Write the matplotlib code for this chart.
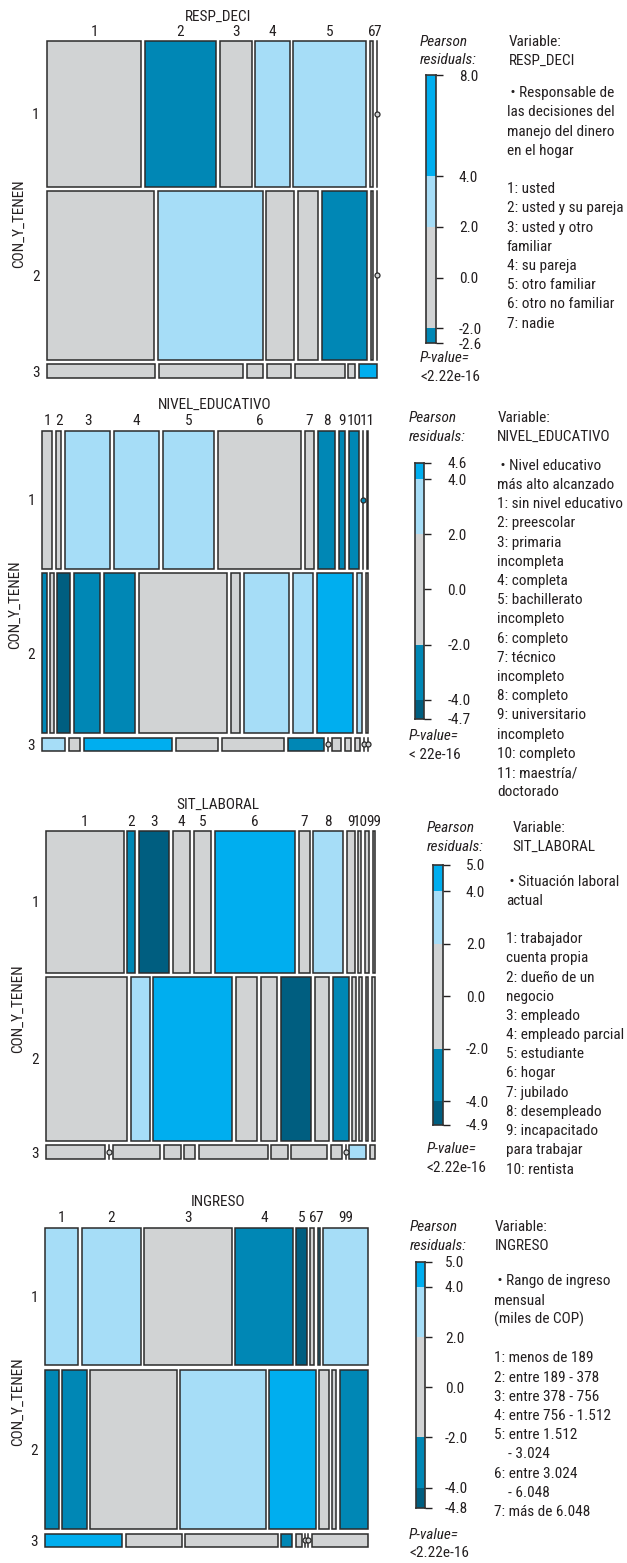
import numpy as np
import matplotlib.pyplot as plt
from matplotlib import font_manager
from matplotlib.patches import Rectangle

# ---- data ---------------------------------------------------------------
# CON_Y_TENEN marginal shares (rows 1, 2, 3)
row_labels = ['1', '2', '3']
row_share = [44.4, 51.4, 4.2]

# residual class per cell: -2 (< -4), -1 (-4..-2), 0 (-2..2), 1 (2..4), 2 (> 4)
resp_labels = ['1', '2', '3', '4', '5', '6', '7']
resp_share = [[30.7, 23.0, 10.5, 11.1, 23.6, 1.1, 0.0],
              [34.8, 34.2, 9.0, 6.6, 14.8, 0.7, 0.0],
              [35.3, 27.4, 5.3, 7.8, 16.3, 2.1, 5.9]]
resp_level = [[0, -1, 0, 1, 1, 0, 0],
              [0, 1, 0, 0, -1, 0, 0],
              [0, 0, 0, 0, 0, 0, 2]]
resp_range = (-2.6, 8.0)

educ_labels = ['1', '2', '3', '4', '5', '6', '7', '8', '9', '10', '', '11']
educ_share = [[3.5, 1.8, 15.9, 16.1, 18.0, 29.2, 3.3, 6.1, 2.1, 3.5, 0.0, 0.4],
              [1.5, 1.1, 4.6, 9.1, 10.9, 31.5, 3.1, 16.0, 7.0, 12.8, 1.9, 0.6],
              [8.2, 3.8, 31.3, 14.8, 22.0, 12.8, 0.0, 3.3, 2.0, 1.8, 0.0, 0.0]]
educ_level = [[0, 0, 1, 1, 1, 0, 0, -1, -1, -1, -1, 0],
              [-1, 0, -2, -1, -1, 0, 0, 1, 1, 2, 1, 0],
              [1, 0, 2, 0, 0, -1, 0, 0, 0, 0, 0, 0]]
educ_range = (-4.7, 4.6)

lab_labels = ['1', '2', '3', '4', '5', '6', '7', '8', '9', '10', '', '99']
lab_share = [[26.9, 2.7, 10.5, 6.1, 6.0, 27.8, 3.8, 10.3, 2.7, 1.0, 1.5, 0.6],
             [28.2, 6.5, 27.2, 7.5, 5.6, 10.5, 5.0, 5.5, 1.1, 0.9, 1.0, 0.9],
             [20.6, 0.0, 16.4, 5.9, 3.9, 23.8, 5.7, 12.5, 3.8, 0.0, 5.7, 1.8]]
lab_level = [[0, -1, -2, 0, 0, 2, 0, 1, 0, 0, 0, 0],
             [0, 1, 2, 0, 0, -2, 0, -1, 0, 0, 0, 0],
             [0, 0, 0, 0, 0, 0, 0, 0, 0, 0, 1, 0]]
lab_range = (-4.9, 5.0)

ing_labels = ['1', '2', '3', '4', '5', '6', '7', '99']
ing_share = [[11.0, 19.7, 29.5, 19.1, 3.7, 1.3, 0.8, 14.8],
             [4.5, 8.2, 29.2, 28.6, 15.5, 3.3, 1.4, 9.4],
             [25.8, 18.8, 31.0, 3.7, 2.0, 0.0, 0.0, 18.7]]
ing_level = [[1, 1, 0, -1, -2, 0, -1, 1],
             [-1, -1, 0, 1, 2, 0, 0, -1],
             [2, 0, 0, -1, 0, 0, 0, 0]]
ing_range = (-4.8, 5.0)

resp_text = [' \u2022 Responsable de', 'las decisiones del', 'manejo del dinero',
             'en el hogar', '', '1: usted', '2: usted y su pareja',
             '3: usted y otro', 'familiar', '4: su pareja', '5: otro familiar',
             '6: otro no familiar', '7: nadie']
educ_text = [' \u2022 Nivel educativo', 'más alto alcanzado', '1: sin nivel educativo',
             '2: preescolar', '3: primaria', 'incompleta', '4: completa',
             '5: bachillerato', 'incompleto', '6: completo', '7: técnico',
             'incompleto', '8: completo', '9: universitario', 'incompleto',
             '10: completo', '11: maestría/', 'doctorado']
lab_text = [' \u2022 Situación laboral', 'actual', '', '1: trabajador', 'cuenta propia',
            '2: dueño de un', 'negocio', '3: empleado', '4: empleado parcial',
            '5: estudiante', '6: hogar', '7: jubilado', '8: desempleado',
            '9: incapacitado', 'para trabajar', '10: rentista']
ing_text = [' \u2022 Rango de ingreso', 'mensual', '(miles de COP)', '',
            '1: menos de 189', '2: entre 189 - 378', '3: entre 378 - 756',
            '4: entre 756 - 1.512', '5: entre 1.512', '    - 3.024',
            '6: entre 3.024', '    - 6.048', '7: más de 6.048']

# ---- styling -------------------------------------------------------------
W, H = 627, 1563
COLORS = {2: '#00aeef', 1: '#a6ddf7', 0: '#d1d3d4', -1: '#0087b5', -2: '#005e80'}
EDGE = '#2b2b2b'
TXT = '#231f20'
VGAP = 4.5

# pick a narrow sans if one is installed
entries = font_manager.fontManager.ttflist
names = {f.name for f in entries}
condensed = {f.name for f in entries if f.stretch in ('condensed', 'semi-condensed')}
STRETCH = 'normal'
if 'Liberation Sans Narrow' in names:
    FONT, FS = 'Liberation Sans Narrow', 11.5
elif 'Roboto Condensed' in names:
    FONT, FS = 'Roboto Condensed', 11.0
elif 'Open Sans Condensed' in names:
    FONT, FS = 'Open Sans Condensed', 11.0
elif 'Roboto' in condensed:
    FONT, FS, STRETCH = 'Roboto', 11.0, 'condensed'
elif 'Open Sans' in condensed:
    FONT, FS, STRETCH = 'Open Sans', 10.5, 'condensed'
else:
    FONT, FS = 'Liberation Sans', 9.8
plt.rcParams['font.family'] = [FONT, 'DejaVu Sans']
plt.rcParams['font.stretch'] = STRETCH
BASE = 0.36 * FS * 100 / 72  # half cap height in px

panels = [
    dict(name='RESP_DECI', labels=resp_labels, share=resp_share, level=resp_level,
         rng=resp_range, text=resp_text, pval='<2.22e-16',
         box=(46.7, 41, 376.7, 378), hgap=3.6, title=(218, 15), ylab=19,
         bar=(426, 75.3, 436, 343.3), tick_x=459, head=(420, 509, 40),
         pv=(420, 357), desc=(506.7, 91.7)),
    dict(name='NIVEL_EDUCATIVO', labels=educ_labels, share=educ_share, level=educ_level,
         rng=educ_range, text=educ_text, pval='< 22e-16',
         box=(42.3, 430.7, 367.7, 751), hgap=3.9, title=(214.3, 403.3), ylab=15,
         bar=(415, 462.7, 424.3, 719), tick_x=447.3, head=(409, 497.3, 416.7),
         pv=(409, 735), desc=(497.3, 464.3)),
    dict(name='SIT_LABORAL', labels=lab_labels, share=lab_share, level=lab_level,
         rng=lab_range, text=lab_text, pval='<2.22e-16',
         box=(46, 831.3, 374.7, 1158.7), hgap=3.7, title=(217.5, 803.3), ylab=18,
         bar=(432.7, 865, 443.3, 1125), tick_x=466, head=(426.7, 512.3, 826.7),
         pv=(426.7, 1147.7), desc=(505.7, 880)),
    dict(name='INGRESO', labels=ing_labels, share=ing_share, level=ing_level,
         rng=ing_range, text=ing_text, pval='<2.22e-16',
         box=(45.3, 1227.7, 367.7, 1546.7), hgap=3.35, title=(217.7, 1201), ylab=17.7,
         bar=(415.7, 1261.7, 425, 1507.7), tick_x=445, head=(410, 495, 1225.7),
         pv=(409, 1533.3), desc=(494.3, 1280)),
]

fig = plt.figure(figsize=(W / 100, H / 100), dpi=100)
bg = fig.add_axes([0, 0, 1, 1])
bg.set_xlim(0, W)
bg.set_ylim(H, 0)
bg.axis('off')


def put(x, y, s, **kw):
    kw.setdefault('ha', 'left')
    bg.text(x, y + BASE, s, va='baseline', fontsize=FS, color=TXT, **kw)


for p in panels:
    left, top, right, bottom = p['box']
    w, h = right - left, bottom - top

    # mosaic cells
    rows = np.array(row_share, float)
    heights = rows / rows.sum() * (h - VGAP * (len(rows) - 1))
    y0 = top
    for r, hr in enumerate(heights):
        s = np.array(p['share'][r], float)
        widths = s / s.sum() * (w - p['hgap'] * (len(s) - 1))
        x0 = left
        for c, wc in enumerate(widths):
            col = COLORS[p['level'][r][c]]
            if wc > 0:
                bg.add_patch(Rectangle((x0, y0), wc, hr, facecolor=col,
                                       edgecolor=EDGE, lw=1.1))
            else:
                bg.plot([x0, x0], [y0, y0 + hr], color=EDGE, lw=1.1)
                bg.plot(x0, y0 + hr / 2, 'o', ms=3.6, mfc=col, mec=EDGE, mew=0.9)
            if r == 0 and p['labels'][c]:
                put(x0 + wc / 2, top - 11, p['labels'][c], ha='center')
            x0 += wc + p['hgap']
        put(left - 7, y0 + hr / 2, row_labels[r], ha='right')
        y0 += hr + VGAP

    put(p['title'][0], p['title'][1], p['name'], ha='center')
    bg.text(p['ylab'], (top + bottom) / 2 + 14, 'CON_Y_TENEN', rotation=90,
            ha='center', va='center', fontsize=FS, color=TXT)

    # legend bar
    bx0, by0, bx1, by1 = p['bar']
    vmin, vmax = p['rng']
    cax = fig.add_axes([bx0 / W, 1 - by1 / H, (bx1 - bx0) / W, (by1 - by0) / H])
    cax.set_xlim(0, 1)
    cax.set_ylim(vmin, vmax)
    breaks = [(-np.inf, -4, -2), (-4, -2, -1), (-2, 2, 0), (2, 4, 1), (4, np.inf, 2)]
    for lo, hi, lev in breaks:
        lo, hi = max(lo, vmin), min(hi, vmax)
        if hi > lo:
            cax.axhspan(lo, hi, color=COLORS[lev], lw=0)
    ticks = [vmax] + [t for t in (4, 2, 0, -2, -4) if vmin < t < vmax] + [vmin]
    cax.yaxis.tick_right()
    cax.set_yticks(ticks)
    cax.set_yticklabels(['%.1f' % t for t in ticks], fontsize=FS, color=TXT)
    cax.set_xticks([])
    cax.tick_params(axis='y', length=5, width=1, color=TXT,
                    pad=(p['tick_x'] - bx1 - 7) * 0.72)
    for sp in cax.spines.values():
        sp.set_color('#333333')
        sp.set_linewidth(1.2)

    # legend texts
    hx1, hx2, hy = p['head']
    put(hx1, hy, 'Pearson', style='italic')
    put(hx1, hy + 19, 'residuals:', style='italic')
    put(hx2, hy, 'Variable:')
    put(hx2, hy + 19, p['name'])
    put(p['pv'][0], p['pv'][1], 'P-value=', style='italic')
    put(p['pv'][0], p['pv'][1] + 18.5, p['pval'])
    dx, dy = p['desc']
    for i, line in enumerate(p['text']):
        if line:
            put(dx, dy + 19.2 * i, line)

fig.savefig('out.png', dpi=100)
